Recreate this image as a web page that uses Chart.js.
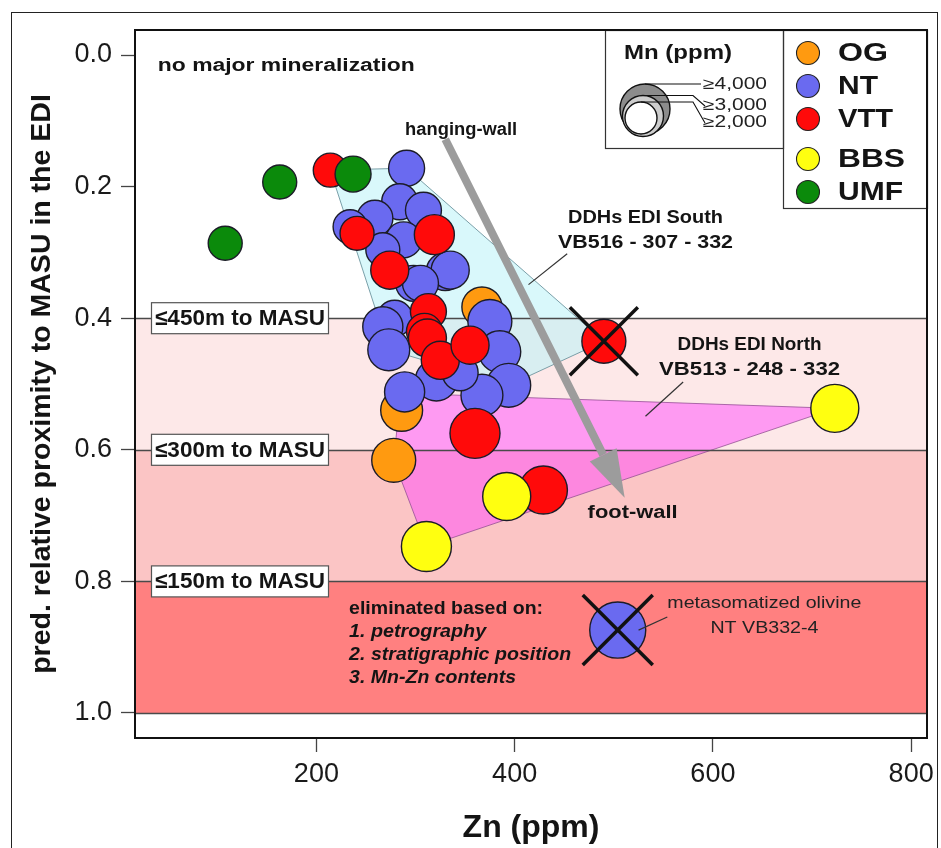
<!DOCTYPE html>
<html>
<head>
<meta charset="utf-8">
<script src="https://cdn.jsdelivr.net/npm/chart.js@4.4.0/dist/chart.umd.min.js"></script>
<style>
  html, body { margin: 0; padding: 0; background: #ffffff; }
  #wrap { width: 941px; height: 848px; position: relative; }
</style>
</head>
<body>
<div id="wrap"><canvas id="c" width="941" height="848"></canvas></div>
<script>
// ---- axis ticks ----
const xTicks = [200, 400, 600, 800];
const xTickLabels = ['200', '400', '600', '800'];
const yTicks = [0.0, 0.2, 0.4, 0.6, 0.8, 1.0];
const yTickLabels = ['0.0', '0.2', '0.4', '0.6', '0.8', '1.0'];

// ---- samples: Zn (ppm), predicted relative proximity, Mn (ppm) ----
const ogZn   = [367, 286, 278];
const ogProx = [0.383, 0.540, 0.616];
const ogMn   = [2900, 3100, 3330];

const ntZn   = [291, 284, 308, 259, 234, 288, 267, 330, 335, 298, 305, 279, 267, 273, 375, 385, 394, 367, 321, 345, 289];
const ntProx = [0.172, 0.223, 0.236, 0.248, 0.261, 0.281, 0.296, 0.329, 0.327, 0.347, 0.347, 0.400, 0.413, 0.448, 0.405, 0.451, 0.502, 0.517, 0.494, 0.483, 0.512];
const ntMn   = [2440, 2440, 2440, 2440, 2220, 2440, 2220, 2670, 2670, 2440, 2440, 2440, 2900, 3100, 3330, 3100, 3330, 3100, 3100, 2440, 2900];

const vttZn   = [214, 241, 319, 274, 313, 309, 312, 325, 355, 360, 429];
const vttProx = [0.175, 0.271, 0.273, 0.327, 0.390, 0.420, 0.430, 0.464, 0.441, 0.575, 0.661];
const vttMn   = [2220, 2220, 2890, 2670, 2440, 2440, 2670, 2670, 2670, 4000, 3780];

const bbsZn   = [723, 392, 311];
const bbsProx = [0.537, 0.671, 0.747];
const bbsMn   = [3780, 3780, 4000];

const umfZn   = [108, 163, 237];
const umfProx = [0.286, 0.193, 0.181];
const umfMn   = [2220, 2220, 2440];

// samples rejected from the interpretation (crossed out)
const rejectedVttZn = [490];
const rejectedVttProx = [0.435];
const rejectedVttMn = [3330];
const rejectedNtZn = [504];
const rejectedNtProx = [0.874];
const rejectedNtMn = [4670];

// ---- drill-hole group envelopes (Zn, proximity) ----
const southHullZn   = [214, 291, 490, 394, 273];
const southHullProx = [0.175, 0.172, 0.435, 0.502, 0.448];
const northHullZn   = [285, 723, 311, 278];
const northHullProx = [0.514, 0.537, 0.747, 0.616];

// ---- distance-to-MASU zones ----
const zoneFrom   = [0.4, 0.6, 0.8];
const zoneTo     = [0.6, 0.8, 1.0];
const zoneLabels = ['≤450m to MASU', '≤300m to MASU', '≤150m to MASU'];

// ---- legend ----
const groupNames = ['OG', 'NT', 'VTT', 'BBS', 'UMF'];
const mnLegendValues = [4000, 3000, 2000];
const mnLegendLabels = ['≥4,000', '≥3,000', '≥2,000'];

const FONT = '"Liberation Sans", Arial, sans-serif';
const groupColors = {
  OG: '#ff9a10', NT: '#6a6af0', VTT: '#ff0a0a', BBS: '#ffff10', UMF: '#0b8a0b'
};

// symbol radius grows with Mn content
const mnRadius = mn => 16 + (mn - 2000) * 0.0045;

function pts(xs, ys) { return xs.map((x, i) => ({ x: x, y: ys[i] })); }

function ds(label, xs, ys, mn, color, order) {
  return {
    label: label,
    data: pts(xs, ys),
    pointRadius: c => mnRadius(mn[c.dataIndex]),
    pointHoverRadius: c => mnRadius(mn[c.dataIndex]),
    backgroundColor: color,
    borderColor: '#1c1c28',
    borderWidth: 1.4,
    order: order
  };
}

function drawText(ctx, str, x, y, o) {
  ctx.save();
  ctx.font = `${o.style || 'normal'} ${o.weight || 'normal'} ${o.size}px ${FONT}`;
  ctx.fillStyle = o.color || '#141414';
  ctx.textBaseline = 'middle';
  ctx.textAlign = 'left';
  const w = ctx.measureText(str).width;
  const sx = o.width ? o.width / w : 1;
  let left = x;
  if (o.align === 'center') left = x - w * sx / 2;
  else if (o.align === 'right') left = x - w * sx;
  ctx.translate(left, y);
  ctx.scale(sx, 1);
  ctx.fillText(str, 0, 0);
  ctx.restore();
}

function line(ctx, pts, color, width) {
  ctx.save();
  ctx.strokeStyle = color;
  ctx.lineWidth = width;
  ctx.beginPath();
  pts.forEach((p, i) => i ? ctx.lineTo(p[0], p[1]) : ctx.moveTo(p[0], p[1]));
  ctx.stroke();
  ctx.restore();
}

function polygon(chart, zs, ps, fill, stroke) {
  const ctx = chart.ctx, sx = chart.scales.x, sy = chart.scales.y;
  ctx.save();
  ctx.beginPath();
  zs.forEach((z, i) => {
    const X = sx.getPixelForValue(z), Y = sy.getPixelForValue(ps[i]);
    i ? ctx.lineTo(X, Y) : ctx.moveTo(X, Y);
  });
  ctx.closePath();
  ctx.fillStyle = fill;
  ctx.fill();
  ctx.strokeStyle = stroke;
  ctx.lineWidth = 1;
  ctx.stroke();
  ctx.restore();
}

// zones, envelopes and zone boundaries underneath the samples
const underlay = {
  id: 'underlay',
  beforeDatasetsDraw(chart) {
    const ctx = chart.ctx, { left, right } = chart.chartArea, sy = chart.scales.y;
    const zoneColors = ['#fde8e8', '#fbc5c5', '#ff8080'];
    zoneFrom.forEach((v, i) => {
      const y0 = sy.getPixelForValue(v), y1 = sy.getPixelForValue(zoneTo[i]);
      ctx.fillStyle = zoneColors[i];
      ctx.fillRect(left, y0, right - left, y1 - y0);
    });
    polygon(chart, southHullZn, southHullProx, 'rgba(185,242,247,0.55)', 'rgba(110,150,160,0.9)');
    polygon(chart, northHullZn, northHullProx, 'rgba(255,60,255,0.45)', 'rgba(150,80,150,0.8)');
    const bounds = [0.4, 0.6, 0.8, 1.0];
    bounds.forEach(v => {
      const y = Math.round(sy.getPixelForValue(v)) + 0.5;
      line(ctx, [[left, y], [right, y]], '#4a4a4a', 1.4);
    });
  }
};

// annotations, legend and frames on top
const overlay = {
  id: 'overlay',
  afterDatasetsDraw(chart) {
    const ctx = chart.ctx, ca = chart.chartArea;
    const sx = chart.scales.x, sy = chart.scales.y;
    const X = v => sx.getPixelForValue(v), Y = v => sy.getPixelForValue(v);

    // crosses over the rejected samples
    [5, 6].forEach(di => {
      chart.getDatasetMeta(di).data.forEach(el => {
        const h = di === 5 ? 34 : 35;
        line(ctx, [[el.x - h, el.y - h], [el.x + h, el.y + h]], '#111', 3.5);
        line(ctx, [[el.x + h, el.y - h], [el.x - h, el.y + h]], '#111', 3.5);
      });
    });

    // hanging-wall -> foot-wall arrow
    {
      const x0 = X(330), y0 = Y(0.128), x1 = X(511), y1 = Y(0.673);
      const ang = Math.atan2(y1 - y0, x1 - x0);
      const headL = 48, headW = 15;
      const bx = x1 - headL * Math.cos(ang), by = y1 - headL * Math.sin(ang);
      line(ctx, [[x0, y0], [bx, by]], '#9c9c9c', 8);
      ctx.save();
      ctx.fillStyle = '#9c9c9c';
      ctx.beginPath();
      ctx.moveTo(x1, y1);
      ctx.lineTo(bx + headW * Math.sin(ang), by - headW * Math.cos(ang));
      ctx.lineTo(bx - headW * Math.sin(ang), by + headW * Math.cos(ang));
      ctx.closePath();
      ctx.fill();
      ctx.restore();
    }

    // leader lines
    line(ctx, [[X(414), Y(0.349)], [X(453), Y(0.302)]], '#333', 1.2);
    line(ctx, [[X(532), Y(0.549)], [X(570), Y(0.497)]], '#333', 1.2);
    line(ctx, [[X(525), Y(0.874)], [X(554), Y(0.854)]], '#333', 1.2);

    // annotation texts
    drawText(ctx, 'no major mineralization', X(40), Y(0.017), { size: 18, weight: 'bold', width: 257 });
    drawText(ctx, 'hanging-wall', X(346), Y(0.114), { size: 18, weight: 'bold', align: 'center', width: 112 });
    drawText(ctx, 'DDHs EDI South', X(532), Y(0.248), { size: 18, weight: 'bold', align: 'center', width: 155 });
    drawText(ctx, 'VB516 - 307 - 332', X(532), Y(0.286), { size: 18, weight: 'bold', align: 'center', width: 175 });
    drawText(ctx, 'DDHs EDI North', X(637), Y(0.441), { size: 18, weight: 'bold', align: 'center', width: 144 });
    drawText(ctx, 'VB513 - 248 - 332', X(637), Y(0.479), { size: 18, weight: 'bold', align: 'center', width: 181 });
    drawText(ctx, 'foot-wall', X(519), Y(0.696), { size: 18, weight: 'bold', align: 'center', width: 90 });

    drawText(ctx, 'eliminated based on:', X(233), Y(0.842), { size: 18, weight: 'bold', width: 194 });
    drawText(ctx, '1. petrography', X(233), Y(0.877), { size: 18, weight: 'bold', style: 'italic', width: 137 });
    drawText(ctx, '2. stratigraphic position', X(233), Y(0.912), { size: 18, weight: 'bold', style: 'italic', width: 222 });
    drawText(ctx, '3. Mn-Zn contents', X(233), Y(0.947), { size: 18, weight: 'bold', style: 'italic', width: 167 });
    drawText(ctx, 'metasomatized olivine', X(554), Y(0.834), { size: 17, width: 194, color: '#222' });
    drawText(ctx, 'NT VB332-4', X(652), Y(0.871), { size: 17, align: 'center', width: 108, color: '#222' });

    // zone labels in boxes
    zoneFrom.forEach((v, i) => {
      const y = Y(v);
      ctx.save();
      ctx.fillStyle = '#ffffff';
      ctx.fillRect(151, y - 15.5, 177, 31);
      ctx.strokeStyle = '#555';
      ctx.lineWidth = 1.2;
      ctx.strokeRect(151.5, y - 15.5, 177, 31);
      ctx.restore();
      drawText(ctx, zoneLabels[i], 155, y + 1, { size: 22, weight: 'bold', width: 170 });
    });

    // Mn size legend
    const boxL = 605, boxR = 783, boxB = 148, top = ca.top;
    const legR = ca.right, legB = 208;
    ctx.save();
    ctx.fillStyle = '#fff';
    ctx.fillRect(boxL, top, legR - boxL, boxB - top);
    ctx.fillRect(boxR, top, legR - boxR, legB - top);
    ctx.strokeStyle = '#333';
    ctx.lineWidth = 1.2;
    ctx.strokeRect(boxL + 0.5, top + 0.5, boxR - boxL, boxB - top);
    ctx.strokeRect(boxR + 0.5, top + 0.5, legR - boxR, legB - top);
    ctx.restore();
    drawText(ctx, 'Mn (ppm)', 678, 53, { size: 21, weight: 'bold', align: 'center', width: 108 });
    const mnFill = ['#8c8c8c', '#cdcdcd', '#ffffff'];
    const mnCy = [109, 116, 118];
    const mnCx = [645, 643, 641];
    const labelY = [85, 106, 123];
    mnLegendValues.forEach((mn, i) => {
      const r = mnRadius(mn);
      ctx.save();
      ctx.beginPath();
      ctx.arc(mnCx[i], mnCy[i], r, 0, Math.PI * 2);
      ctx.fillStyle = mnFill[i];
      ctx.fill();
      ctx.strokeStyle = '#111';
      ctx.lineWidth = 1.4;
      ctx.stroke();
      ctx.restore();
    });
    mnLegendValues.forEach((mn, i) => {
      const r = mnRadius(mn);
      const ty = mnCy[i] - r;
      const path = i === 0
        ? [[mnCx[i], ty], [701, ty]]
        : [[mnCx[i], ty], [693, ty], [705, labelY[i]]];
      line(ctx, path, '#111', 1.1);
      drawText(ctx, mnLegendLabels[i], 703, labelY[i], { size: 16, width: 64, color: '#222' });
    });

    // lithology legend
    const legY = [53, 86, 119, 159, 192];
    const legW = [50, 40, 55, 67, 65];
    groupNames.forEach((g, i) => {
      ctx.save();
      ctx.beginPath();
      ctx.arc(808, legY[i], 11.5, 0, Math.PI * 2);
      ctx.fillStyle = groupColors[g];
      ctx.fill();
      ctx.strokeStyle = '#222';
      ctx.lineWidth = 1.1;
      ctx.stroke();
      ctx.restore();
      drawText(ctx, g, 838, legY[i] + 1, { size: 25, weight: 'bold', width: legW[i] });
    });

    // plot frame and figure frame
    ctx.save();
    ctx.strokeStyle = '#111';
    ctx.lineWidth = 2;
    ctx.strokeRect(ca.left, ca.top, ca.right - ca.left, ca.bottom - ca.top);
    ctx.lineWidth = 1;
    ctx.strokeStyle = '#222';
    ctx.strokeRect(11.5, 12.5, 926, 840);
    ctx.restore();
  }
};

const tickFont = { family: FONT, size: 27 };

// keep the plotting area fixed: no extra room reserved for overhanging tick labels
function fixBox(size, key) {
  return s => {
    s[key] = size;
    s.paddingLeft = 0; s.paddingRight = 0; s.paddingTop = 0; s.paddingBottom = 0;
  };
}

new Chart(document.getElementById('c'), {
  type: 'scatter',
  data: {
    datasets: [
      ds('OG', ogZn, ogProx, ogMn, groupColors.OG, 7),
      ds('NT', ntZn, ntProx, ntMn, groupColors.NT, 6),
      ds('VTT', vttZn, vttProx, vttMn, groupColors.VTT, 5),
      ds('BBS', bbsZn, bbsProx, bbsMn, groupColors.BBS, 4),
      ds('UMF', umfZn, umfProx, umfMn, groupColors.UMF, 3),
      ds('VTT rejected', rejectedVttZn, rejectedVttProx, rejectedVttMn, groupColors.VTT, 2),
      ds('NT rejected', rejectedNtZn, rejectedNtProx, rejectedNtMn, groupColors.NT, 1)
    ]
  },
  options: {
    responsive: false,
    animation: false,
    devicePixelRatio: 1,
    layout: { autoPadding: false, padding: { top: 30, right: 14, left: 0, bottom: 0 } },
    plugins: { legend: { display: false }, tooltip: { enabled: false } },
    scales: {
      x: {
        type: 'linear',
        min: 17,
        max: 816,
        afterBuildTicks: s => { s.ticks = xTicks.map(v => ({ value: v })); },
        afterFit: fixBox(110, 'height'),
        border: { display: false },
        grid: { drawOnChartArea: false, tickLength: 14, tickColor: '#444', tickWidth: 1.3 },
        ticks: { font: tickFont, color: '#1a1a1a', padding: 6, maxRotation: 0,
                 callback: (v, i) => xTickLabels[i] },
        title: { display: true, text: 'Zn (ppm)', color: '#141414',
                 font: { family: FONT, size: 32, weight: 'bold' }, padding: { top: 0, bottom: 1 } }
      },
      y: {
        type: 'linear',
        reverse: true,
        min: -0.038,
        max: 1.038,
        afterBuildTicks: s => { s.ticks = yTicks.map(v => ({ value: v })); },
        afterFit: fixBox(135, 'width'),
        border: { display: false },
        grid: { drawOnChartArea: false, tickLength: 14, tickColor: '#444', tickWidth: 1.3 },
        ticks: { font: tickFont, color: '#1a1a1a', padding: 9,
                 callback: (v, i) => yTickLabels[i] },
        title: { display: true, text: 'pred. relative proximity to MASU in the EDI', color: '#141414',
                 font: { family: FONT, size: 28.5, weight: 'bold' }, padding: { top: 25, bottom: 0 } }
      }
    }
  },
  plugins: [underlay, overlay]
});
</script>
</body>
</html>
